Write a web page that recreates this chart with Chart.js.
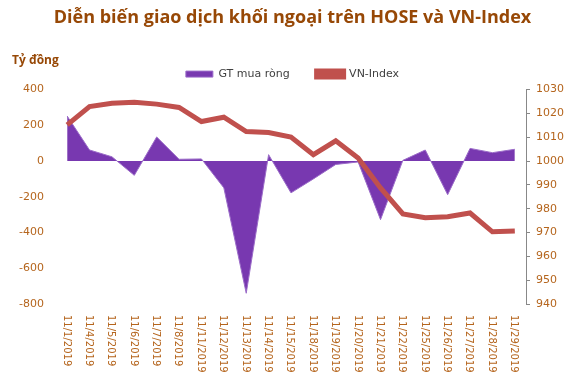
<!DOCTYPE html>
<html>
<head>
<meta charset="utf-8">
<script src="https://cdn.jsdelivr.net/npm/chart.js@4.4.0/dist/chart.umd.min.js"></script>
<style>
  html, body { margin: 0; padding: 0; background: #fff; }
  #wrap { width: 570px; height: 377px; position: relative; }
</style>
</head>
<body>
<div id="wrap"><canvas id="c"></canvas></div>
<script>
const dates = ["11/1/2019", "11/4/2019", "11/5/2019", "11/6/2019", "11/7/2019", "11/8/2019",
    "11/11/2019", "11/12/2019", "11/13/2019", "11/14/2019", "11/15/2019", "11/18/2019",
    "11/19/2019", "11/20/2019", "11/21/2019", "11/22/2019", "11/25/2019", "11/26/2019",
    "11/27/2019", "11/28/2019", "11/29/2019"];
const netBuy = [252, 62, 24, -80, 135, 10, 12, -150, -740, 36, -178, -100,
    -19, -5, -328, 4, 62, -188, 71, 47, 66];
const vnIndex = [1015.2, 1022.9, 1024.3, 1024.7, 1023.9, 1022.5, 1016.6, 1018.4, 1012.4, 1012.0,
    1010.1, 1002.7, 1008.5, 1001.3, 988.7, 977.8, 976.2, 976.6, 978.2, 970.3, 970.6];
const leftTicks = [-800, 400, 200];   // min, max, step
const rightTicks = [940, 1030, 10];

const brown = "#B5651D";
const titleBrown = "#974806";

// x labels in the picture read top to bottom, so draw them ourselves
const dateLabels = {
    id: "dateLabels",
    afterDraw(chart)
    {
        const ctx = chart.ctx;
        const xs = chart.scales.x;
        ctx.save();
        ctx.fillStyle = brown;
        ctx.font = "10px 'DejaVu Sans'";
        ctx.textAlign = "left";
        ctx.textBaseline = "middle";
        dates.forEach((d, i) => {
            ctx.save();
            ctx.translate(xs.getPixelForValue(i) - 1, 315);
            ctx.rotate(Math.PI / 2);
            ctx.fillText(d, 0, 0);
            ctx.restore();
        });
        ctx.font = "bold 12px 'Open Sans'";
        ctx.fillStyle = titleBrown;
        ctx.fillText("Tỷ đồng", 12, 61);
        ctx.restore();
    }
};

new Chart(document.getElementById("c"), {
    type: "line",
    data: {
        labels: dates,
        datasets: [{
            label: "GT mua ròng",
            data: netBuy,
            yAxisID: "y",
            fill: "origin",
            backgroundColor: "#7838B0",
            borderColor: "#9B6CC8",
            borderWidth: 1,
            pointRadius: 0,
            tension: 0,
            order: 1
        }, {
            label: "VN-Index",
            data: vnIndex,
            yAxisID: "y1",
            fill: false,
            backgroundColor: "#C0504D",
            borderColor: "#C0504D",
            borderWidth: 5,
            pointRadius: 0,
            tension: 0,
            order: 0
        }]
    },
    options: {
        responsive: true,
        maintainAspectRatio: false,
        animation: false,
        layout: { padding: { left: 15, right: 0, top: 0, bottom: 65 } },
        plugins: {
            title: {
                display: true,
                text: "Diễn biến giao dịch khối ngoại trên HOSE và VN-Index",
                color: titleBrown,
                font: { family: "Open Sans", size: 18, weight: "bold" },
                padding: { top: 7, bottom: 13 }
            },
            legend: {
                labels: {
                    color: "#404040",
                    font: { family: "DejaVu Sans", size: 11 },
                    boxWidth: 27,
                    boxHeight: 6,
                    padding: 27,
                    sort: (a, b) => a.datasetIndex - b.datasetIndex
                }
            },
            tooltip: { enabled: false }
        },
        scales: {
            x: {
                offset: true,
                grid: { display: false },
                border: { display: false },
                ticks: { display: false }
            },
            y: {
                position: "left",
                min: leftTicks[0],
                max: leftTicks[1],
                ticks: { stepSize: leftTicks[2], color: brown, font: { family: "DejaVu Sans", size: 11 }, padding: 4 },
                grid: { display: false },
                border: { display: false }
            },
            y1: {
                position: "right",
                min: rightTicks[0],
                max: rightTicks[1],
                ticks: {
                    stepSize: rightTicks[2], color: brown, font: { family: "DejaVu Sans", size: 11 }, padding: 6,
                    callback: v => String(v)
                },
                grid: { drawOnChartArea: false, color: "#888", tickLength: 4 },
                border: { display: true, color: "#888" }
            }
        }
    },
    plugins: [dateLabels]
});
</script>
</body>
</html>
